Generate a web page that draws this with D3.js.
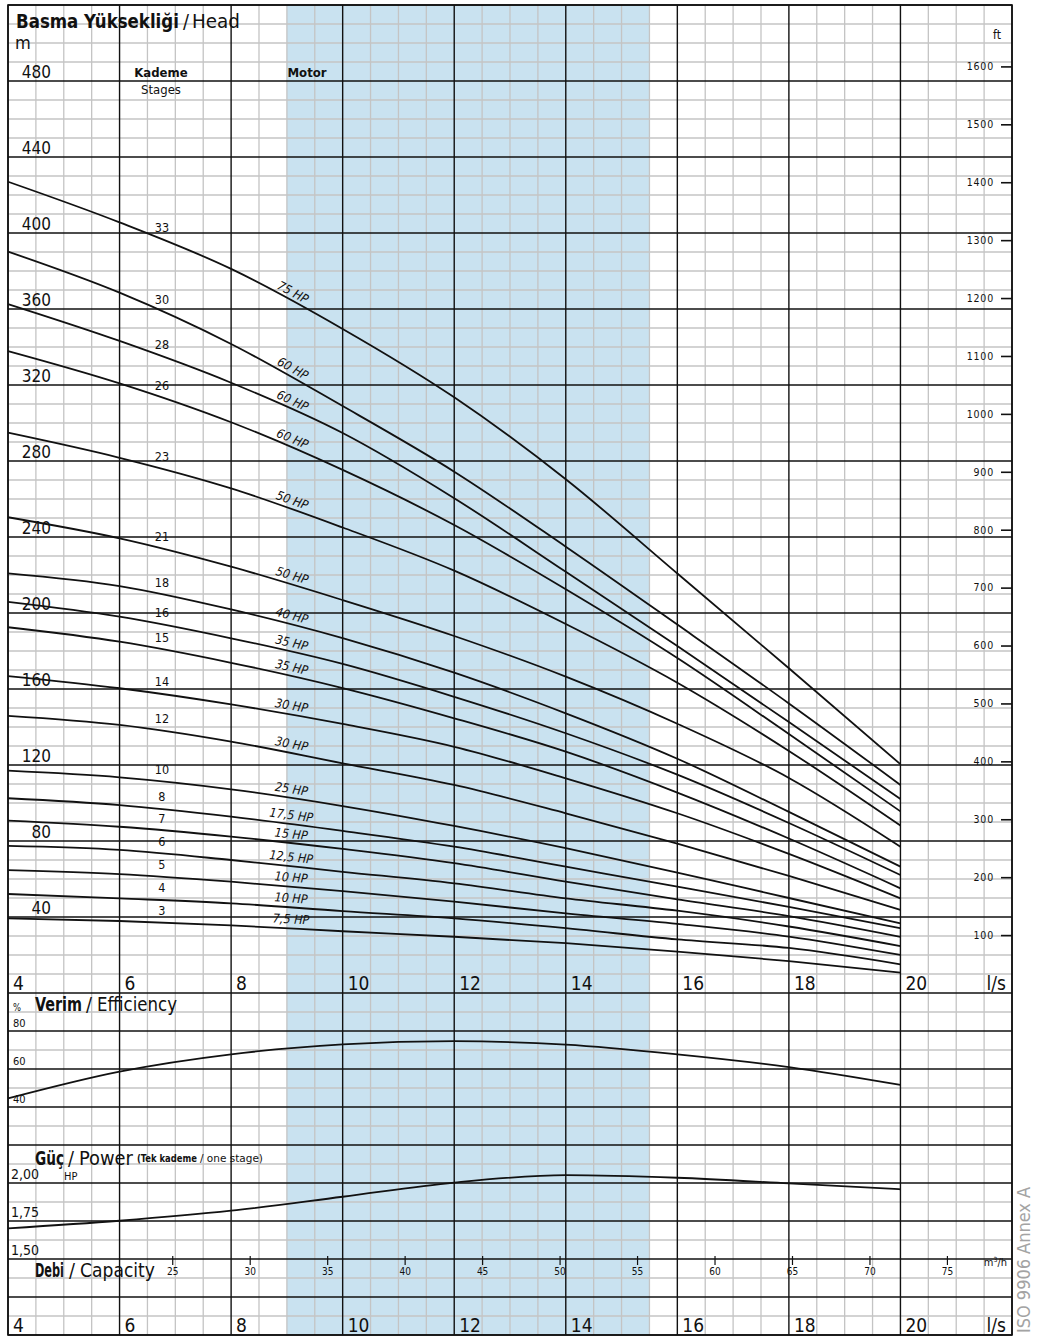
<!DOCTYPE html>
<html>
<head>
<meta charset="utf-8">
<script src="https://cdn.jsdelivr.net/npm/d3@7"></script>
<style>
  body { margin: 0; background: #fff; }
  svg text { font-family: 'DejaVu Sans Condensed', 'Liberation Sans Narrow', 'Liberation Sans', Arial, sans-serif; fill: #111; }
</style>
</head>
<body>
<svg id="chart" width="1037" height="1337"></svg>
<script>
const flow = [4, 6, 8, 10, 12, 14, 16, 18, 20];

// Stage count and motor size for every head curve (top to bottom)
const stages = [33, 30, 28, 26, 23, 21, 18, 16, 15, 14, 12, 10, 8, 7, 6, 5, 4, 3];
const motors = ['75', '60', '60', '60', '50', '50', '40', '35', '35', '30', '30', '25', '17,5', '15', '12,5', '10', '10', '7,5'];

// Head (m) of each curve at the flow points
const heads = [
  [427.0, 405.6, 381.1, 349.5, 313.5, 270.4, 220.8, 170.9, 120.4],
  [390.2, 368.6, 341.6, 308.9, 274.4, 234.9, 193.9, 152.4, 109.5],
  [362.6, 343.2, 321.2, 294.7, 260.4, 221.7, 182.6, 142.6, 102.1],
  [337.9, 320.9, 300.4, 275.3, 246.3, 212.5, 176.3, 136.3, 95.6],
  [294.9, 281.7, 265.6, 245.0, 222.3, 194.2, 163.3, 127.4, 88.1],
  [250.4, 239.3, 224.4, 206.8, 187.9, 166.5, 141.7, 113.2, 77.0],
  [220.9, 214.2, 201.9, 186.8, 168.6, 147.2, 123.3, 95.3, 66.5],
  [205.9, 198.1, 186.7, 173.2, 155.9, 136.7, 114.9, 89.5, 62.1],
  [192.5, 184.9, 173.8, 160.5, 144.6, 127.0, 105.5, 81.3, 55.1],
  [166.8, 160.4, 151.9, 141.6, 129.6, 113.0, 94.6, 73.2, 49.8],
  [145.9, 141.1, 132.3, 120.9, 109.5, 94.6, 78.6, 61.6, 43.7],
  [117.0, 113.5, 107.2, 98.4, 87.9, 76.2, 63.4, 50.0, 36.7],
  [102.5, 98.9, 92.8, 85.3, 77.0, 66.5, 56.0, 45.3, 34.1],
  [90.7, 87.5, 82.3, 75.8, 68.3, 58.6, 49.3, 40.5, 29.6],
  [77.4, 75.3, 70.0, 63.8, 57.7, 49.8, 43.3, 35.0, 24.7],
  [64.7, 62.6, 58.6, 53.6, 48.1, 41.9, 36.4, 29.7, 20.0],
  [52.1, 49.8, 47.2, 43.1, 39.3, 34.1, 28.2, 23.7, 15.1],
  [39.3, 37.9, 35.6, 32.5, 29.6, 26.2, 21.8, 16.8, 10.7],
];

// Efficiency (%) and one-stage power (HP) at the same flow points
const efficiency = [44.0, 58.1, 67.2, 72.4, 74.1, 72.3, 67.2, 60.5, 51.1];
const power = [1.695, 1.745, 1.811, 1.903, 1.996, 2.045, 2.028, 1.991, 1.952];

// Tick values
const flowTicks = [4, 6, 8, 10, 12, 14, 16, 18, 20];
const headTicks = [40, 80, 120, 160, 200, 240, 280, 320, 360, 400, 440, 480];
const ftTicks = [100, 200, 300, 400, 500, 600, 700, 800, 900, 1000, 1100, 1200, 1300, 1400, 1500, 1600];
const effTicks = [80, 60, 40];
const powerTicks = [2.0, 1.75, 1.5];
const m3hTicks = [25, 30, 35, 40, 45, 50, 55, 60, 65, 70, 75];
const motorBand = [9, 15.5];

const svg = d3.select('#chart');
const plotTop = 5, plotBottom = 1335, plotLeft = 8, plotRight = 1012;

// Scales
const x = d3.scaleLinear().domain([4, 22]).range([plotLeft, plotRight]);
const yHead = d3.scaleLinear().domain([0, 520]).range([993, plotTop]);
const yFt = d3.scaleLinear().domain([0, 520 / 0.3048]).range([993, plotTop]);
const yEff = d3.scaleLinear().domain([0, 100]).range([1182, 992]);
const yPow = d3.scaleLinear().domain([1.5, 2.0]).range([1258, 1182]);

// Motor area band
svg.append('rect')
  .attr('x', x(motorBand[0])).attr('y', plotTop)
  .attr('width', x(motorBand[1]) - x(motorBand[0])).attr('height', plotBottom - plotTop)
  .attr('fill', '#c9e2f0');

// Grid: every 0.5 l/s, every 10 m (the lower panels share the same spacing)
const vMinor = d3.range(4, 22.01, 0.5);
const hVals = d3.range(-180, 520.01, 10);
const isMajorH = (v) => (v >= 0 ? v % 40 === 0 : v % 20 === 0);

const grid = svg.append('g').attr('class', 'grid');
grid.selectAll('line.vm').data(vMinor.filter((q) => q % 2 !== 0))
  .join('line').attr('class', 'vm')
  .attr('x1', (d) => x(d)).attr('x2', (d) => x(d)).attr('y1', plotTop).attr('y2', plotBottom)
  .attr('stroke', '#c4c4c4').attr('stroke-width', 1.3);
grid.selectAll('line.hm').data(hVals.filter((v) => !isMajorH(v)))
  .join('line').attr('class', 'hm')
  .attr('x1', plotLeft).attr('x2', plotRight).attr('y1', (d) => yHead(d)).attr('y2', (d) => yHead(d))
  .attr('stroke', '#c4c4c4').attr('stroke-width', 1.3);
grid.selectAll('line.hM').data(hVals.filter(isMajorH))
  .join('line').attr('class', 'hM')
  .attr('x1', plotLeft).attr('x2', plotRight).attr('y1', (d) => yHead(d)).attr('y2', (d) => yHead(d))
  .attr('stroke', '#111').attr('stroke-width', 1.3);
grid.selectAll('line.vM').data(vMinor.filter((q) => q % 2 === 0))
  .join('line').attr('class', 'vM')
  .attr('x1', (d) => x(d)).attr('x2', (d) => x(d)).attr('y1', plotTop).attr('y2', plotBottom)
  .attr('stroke', '#111').attr('stroke-width', 1.4);
svg.append('rect').attr('x', plotLeft).attr('y', plotTop)
  .attr('width', plotRight - plotLeft).attr('height', plotBottom - plotTop)
  .attr('fill', 'none').attr('stroke', '#111').attr('stroke-width', 1.6);

// Head curves
const lineHead = d3.line().x((d) => x(d[0])).y((d) => yHead(d[1])).curve(d3.curveMonotoneX);
svg.append('g').selectAll('path').data(heads).join('path')
  .attr('d', (h) => lineHead(flow.map((q, i) => [q, h[i]])))
  .attr('fill', 'none').attr('stroke', '#111').attr('stroke-width', 1.8);

// Efficiency and power curves
svg.append('path')
  .attr('d', d3.line().x((d, i) => x(flow[i])).y((d) => yEff(d)).curve(d3.curveMonotoneX)(efficiency))
  .attr('fill', 'none').attr('stroke', '#111').attr('stroke-width', 1.8);
svg.append('path')
  .attr('d', d3.line().x((d, i) => x(flow[i])).y((d) => yPow(d)).curve(d3.curveMonotoneX)(power))
  .attr('fill', 'none').attr('stroke', '#111').attr('stroke-width', 1.8);

// Helper for plain text; with opts.len the text is squeezed sideways to that width
function label(txt, px, py, size, opts = {}) {
  const t = svg.append('text').attr('x', px).attr('y', py)
    .attr('font-size', size)
    .attr('font-weight', opts.weight || 'normal')
    .attr('text-anchor', opts.anchor || 'start')
    .text(txt);
  if (opts.len) {
    const w = t.node().getComputedTextLength();
    t.attr('x', 0).attr('y', 0)
      .attr('transform', `translate(${px},${py}) scale(${opts.len / w},1)`);
  }
  return t;
}

// Title parts: [text, x, width, size, weight]
function titleRow(parts, py) {
  parts.forEach(([txt, px, len, size, weight]) => label(txt, px, py, size, { weight, len }));
}

// Stage labels and motor labels, placed from the curves
heads.forEach((h, i) => {
  const f = d3.scaleLinear().domain(flow).range(h);
  const qs = 6.76;
  label(stages[i], x(qs), yHead(f(qs)) - 8, 12.5, { anchor: 'middle' });

  const qm = 9.07;
  const dx = x(qm + 0.4) - x(qm - 0.4);
  const dy = yHead(f(qm + 0.4)) - yHead(f(qm - 0.4));
  const ang = Math.atan2(dy, dx) * 180 / Math.PI;
  const px = x(qm), py = yHead(f(qm)) - 5;
  svg.append('text')
    .attr('transform', `translate(${px},${py}) rotate(${ang})`)
    .attr('text-anchor', 'middle').attr('font-size', 12.5).attr('font-style', 'italic')
    .text(motors[i] + '  HP');
});

// Head axis labels (m)
svg.append('g').selectAll('text').data(headTicks).join('text')
  .attr('x', 51).attr('y', (d) => yHead(d) - 3)
  .attr('text-anchor', 'end').attr('font-size', 17)
  .text((d) => d);

// Feet axis on the right
const ftAxis = svg.append('g').attr('transform', `translate(${plotRight},0)`)
  .call(d3.axisLeft(yFt).tickValues(ftTicks).tickFormat(d3.format('d')).tickSize(11).tickPadding(7));
ftAxis.select('.domain').remove();
ftAxis.selectAll('line').attr('stroke', '#111').attr('stroke-width', 1.6);
ftAxis.selectAll('text').attr('font-size', 10.5).attr('letter-spacing', 0.8)
  .attr('font-family', null).attr('fill', null);
label('ft', 997, 39, 12, { anchor: 'middle' });

// Flow labels (l/s), top row and bottom row
[990, 1332].forEach((by) => {
  svg.append('g').selectAll('text').data(flowTicks).join('text')
    .attr('x', (d) => x(d) + 5).attr('y', by)
    .attr('font-size', 19).text((d) => d);
  label('l/s', 1006, by, 19, { anchor: 'end' });
});

// m3/h axis
const qAxis = svg.append('g').attr('transform', `translate(0,1256)`)
  .call(d3.axisBottom(d3.scaleLinear().domain([4 * 3.6, 22 * 3.6]).range([plotLeft, plotRight]))
    .tickValues(m3hTicks).tickSize(9).tickPadding(3));
qAxis.select('.domain').remove();
qAxis.selectAll('line').attr('stroke', '#111').attr('stroke-width', 1.2);
qAxis.selectAll('text').attr('font-size', 10).attr('font-family', null).attr('fill', null);
const m3 = svg.append('text').attr('x', 1007).attr('y', 1266).attr('text-anchor', 'end').attr('font-size', 11);
m3.append('tspan').text('m');
m3.append('tspan').attr('font-size', 7).attr('dy', -4).text('3');
m3.append('tspan').attr('dy', 4).text('/h');

// Efficiency labels
svg.append('g').selectAll('text').data(effTicks).join('text')
  .attr('x', 13).attr('y', (d) => yEff(d) - 3)
  .attr('font-size', 11).text((d) => d);

// Power labels
svg.append('g').selectAll('text').data(powerTicks).join('text')
  .attr('x', 11).attr('y', (d) => yPow(d) - 3)
  .attr('font-size', 14).attr('font-family', 'Liberation Sans, Arial, sans-serif')
  .text((d) => d3.format('.2f')(d).replace('.', ','));
label('HP', 64, 1180, 11).attr('font-family', 'Liberation Sans, Arial, sans-serif');

// Titles
titleRow([['Basma Yüksekliği', 16, 163, 19, 'bold'], ['/', 183, 6, 19, 'normal'], ['Head', 192, 48, 19, 'normal']], 27.5);
label('m', 15, 49, 18);
label('Kademe', 161, 77, 13, { weight: 'bold', anchor: 'middle' });
label('Stages', 161, 94, 13, { anchor: 'middle' });
label('Motor', 307, 77, 13, { weight: 'bold', anchor: 'middle' });

titleRow([['%', 13, 8, 11, 'normal'], ['Verim', 35, 47, 20, 'bold'], ['/', 86, 6, 20, 'normal'],
  ['Efficiency', 97, 80, 20, 'normal']], 1011);
titleRow([['Güç', 35, 29, 20, 'bold'], ['/', 68, 6, 20, 'normal'], ['Power', 79, 54, 20, 'normal']], 1165);
titleRow([['(Tek kademe', 137, 60, 10.5, 'bold'], ['/ one stage)', 200, 63, 10.5, 'normal']], 1162);
titleRow([['Debi', 35, 29, 20, 'bold'], ['/', 69, 6, 20, 'normal'], ['Capacity', 80, 75, 20, 'normal']], 1277);

// Standard note on the right edge
svg.append('text')
  .attr('transform', 'translate(1030,1333) rotate(-90)')
  .attr('font-size', 17).style('fill', '#a3a3a3')
  .attr('textLength', 146).attr('lengthAdjust', 'spacingAndGlyphs')
  .text('ISO 9906 Annex A');
</script>
</body>
</html>
